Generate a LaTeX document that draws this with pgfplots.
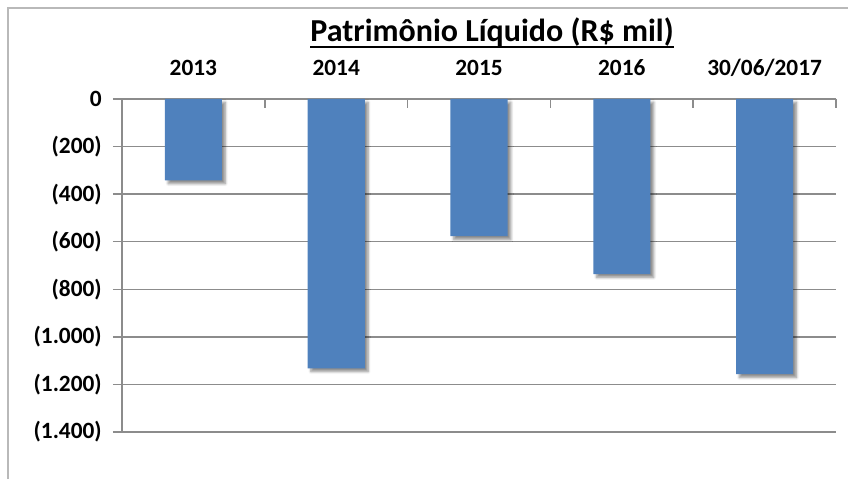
\documentclass[border=0pt]{standalone}
\usepackage{fontspec}
\setmainfont{Carlito}
\usepackage{pgfplots}
\pgfplotsset{compat=1.18}
\usetikzlibrary{shadows.blur}
\definecolor{barBlue}{HTML}{4F81BD}
\definecolor{gridGray}{HTML}{8C8C8C}
\pgfplotsset{
  frameaxis/.style={
    at={(91.5pt,35.25pt)}, anchor=south west,
    scale only axis, width=535.5pt, height=249.75pt,
    xmin=-0.5, xmax=4.5, ymin=-1400, ymax=0,
  },
}
\begin{document}
\begin{tikzpicture}
\useasboundingbox (0,0) rectangle (636pt,359.25pt);
\draw[color=gray!55, line width=1.2pt] (6pt,0) -- (6pt,353.25pt) -- (636pt,353.25pt);
\begin{axis}[
  frameaxis,
  axis x line*=top, axis y line*=left,
  axis line style={-, gridGray, line width=1.1pt},
  tick align=outside,
  xtick={0,1,2,3,4},
  xticklabels={2013,2014,2015,2016,30/06/2017},
  major x tick style={draw=none},
  major tick length=6.75pt,
  ytick={-1400,-1200,...,0},
  yticklabels={(1.400),(1.200),(1.000),(800),(600),(400),(200),0},
  ytick style={gridGray, line width=1.1pt},
  ymajorgrids,
  grid style={gridGray, line width=1.1pt},
  tick label style={font=\fontsize{17.5}{20}\selectfont\bfseries},
  xticklabel style={anchor=base, inner sep=0pt, yshift=10.5pt},
  yticklabel style={anchor=east, inner sep=0pt, xshift=-8.25pt},
]
\addplot[ybar, bar width=0.4, fill=barBlue, draw=none,
  blur shadow={shadow xshift=2.5pt, shadow yshift=-2.5pt, shadow blur steps=6, shadow opacity=45}]
  coordinates {(0,-342) (1,-1132) (2,-577) (3,-736) (4,-1157)};
\end{axis}
% category separators on the top axis, pointing down
\begin{axis}[
  frameaxis,
  axis x line*=top, axis y line=none,
  axis line style={-, draw=none},
  tick align=inside,
  xtick={0.5,1.5,2.5,3.5,4.5},
  xticklabels={},
  major tick length=6.75pt,
  xtick style={gridGray, line width=1.1pt},
]
\end{axis}
\node[font=\fontsize{24}{28}\selectfont\bfseries, anchor=base, inner sep=0pt] (T) at (369pt,327.75pt) {Patrimônio Líquido (R\$ mil)};
\draw[line width=1.5pt] ([yshift=-3.75pt]T.base west) -- ([yshift=-3.75pt]T.base east);
\end{tikzpicture}
\end{document}
